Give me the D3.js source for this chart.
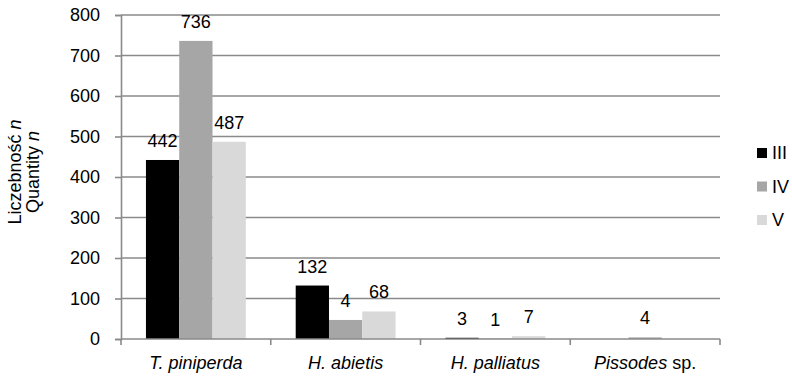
<!DOCTYPE html>
<html><head><meta charset="utf-8">
<script src="https://cdn.jsdelivr.net/npm/d3@7"></script>
<style>body{margin:0;background:#fff}svg{display:block;font-family:"Liberation Sans",Arial,sans-serif}</style>
</head><body><svg id="c" width="792" height="376"></svg>
<script>
const categories = ["T. piniperda","H. abietis","H. palliatus","Pissodes sp."];
const series = ["III","IV","V"];
const valuesIII = [442,132,3,0];
const valuesIV = [736,47,1,4];
const valuesV = [487,68,7,0];
const labelsIII = ["442","132","3",""];
const labelsIV = ["736","4","1","4"];
const labelsV = ["487","68","7",""];
const yTicks = [0,100,200,300,400,500,600,700,800];
const colors = ["#000000","#a6a6a6","#d9d9d9"];

const FS = 18;
const svg = d3.select("#c");
const L=121,R=720,T=15,B=339;
const x = d3.scaleBand().domain(categories).range([L,R]);
// Excel gap width 150%: 3 bars plus 0.75 bar on each side
const xs = d3.scaleBand().domain(series).range([0,x.bandwidth()]).paddingOuter(0.75).paddingInner(0);
const y = d3.scaleLinear().domain([0,800]).range([B,T]);
const gridCol="#8a8a8a";

svg.append("g").selectAll("line").data(yTicks.slice(1)).join("line")
  .attr("x1",L).attr("x2",R).attr("y1",d=>y(d)).attr("y2",d=>y(d))
  .attr("stroke",gridCol).attr("stroke-width",1.6);

const vals=[valuesIII,valuesIV,valuesV], labs=[labelsIII,labelsIV,labelsV];
const data=[];
series.forEach((s,si)=>categories.forEach((c,ci)=>data.push({s,c,v:vals[si][ci],l:labs[si][ci],col:colors[si]})));

svg.append("g").selectAll("rect").data(data).join("rect")
  .attr("x",d=>x(d.c)+xs(d.s)).attr("width",xs.bandwidth())
  .attr("y",d=>y(d.v)).attr("height",d=>B-y(d.v)).attr("fill",d=>d.col);

svg.append("g").selectAll("text").data(data.filter(d=>d.l!=="")).join("text")
  .attr("x",d=>x(d.c)+xs(d.s)+xs.bandwidth()/2).attr("y",d=>y(d.v)-13)
  .attr("text-anchor","middle").attr("font-size",FS).attr("fill","#000").text(d=>d.l);

const ya = svg.append("g").attr("transform",`translate(${L},0)`)
  .call(d3.axisLeft(y).tickValues(yTicks).tickSize(6).tickPadding(15));
ya.select(".domain").attr("stroke",gridCol).attr("stroke-width",1.6);
ya.selectAll(".tick line").attr("stroke",gridCol).attr("stroke-width",1.6);
ya.selectAll(".tick text").attr("font-size",FS).attr("font-family","Liberation Sans, Arial, sans-serif").attr("fill","#000");

svg.append("line").attr("x1",L).attr("x2",R).attr("y1",B).attr("y2",B).attr("stroke",gridCol).attr("stroke-width",1.6);
const bounds = categories.map(c=>x(c)).concat([R]);
svg.append("g").selectAll("line").data(bounds).join("line")
  .attr("x1",d=>d).attr("x2",d=>d).attr("y1",B).attr("y2",B+6).attr("stroke",gridCol).attr("stroke-width",1.6);

const xl = svg.append("g").selectAll("text").data(categories).join("text")
  .attr("x",c=>x(c)+x.bandwidth()/2).attr("y",369).attr("text-anchor","middle").attr("font-size",FS).attr("fill","#000");
xl.each(function(c){
  const t=d3.select(this);
  if(c.endsWith(" sp.")){ t.append("tspan").attr("font-style","italic").text(c.replace(" sp.","")); t.append("tspan").text(" sp."); }
  else t.append("tspan").attr("font-style","italic").text(c);
});

const yt = svg.append("text").attr("transform","translate(0,172) rotate(-90)").attr("text-anchor","middle").attr("font-size",FS).attr("fill","#000");
const l1=yt.append("tspan").attr("x",0).attr("y",21); l1.append("tspan").text("Liczebność "); l1.append("tspan").attr("font-style","italic").text("n");
const l2=yt.append("tspan").attr("x",0).attr("y",39); l2.append("tspan").text("Quantity "); l2.append("tspan").attr("font-style","italic").text("n");

const lg = svg.append("g").selectAll("g").data(series).join("g")
  .attr("transform",(d,i)=>`translate(757,${148+i*33.5})`);
lg.append("rect").attr("width",10).attr("height",10).attr("fill",(d,i)=>colors[i]);
lg.append("text").attr("x",15).attr("y",11).attr("font-size",FS).attr("fill","#000").text(d=>d);
</script></body></html>
